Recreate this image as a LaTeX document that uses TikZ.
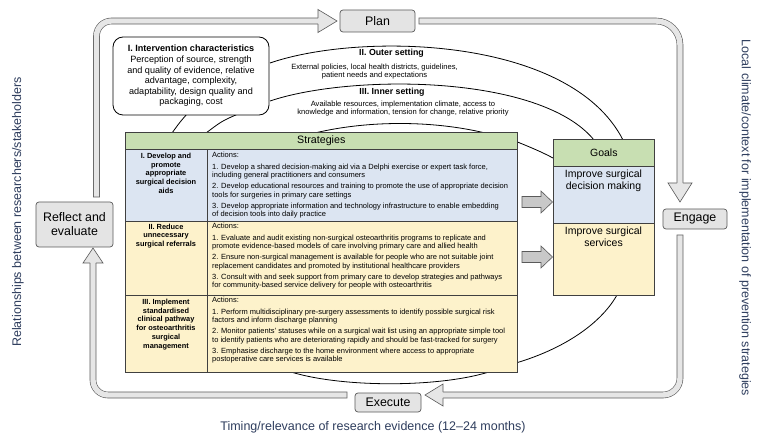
\documentclass[tikz,border=0pt]{standalone}
\usepackage{fontspec}
\setmainfont{Liberation Sans}
\usetikzlibrary{calc}
\definecolor{hdrgreen}{HTML}{C8DFB2}
\definecolor{rowblue}{HTML}{DCE5F2}
\definecolor{rowyellow}{HTML}{FDF2CB}
\definecolor{boxgray}{HTML}{E4E4E4}
\definecolor{linegray}{HTML}{5A5A5A}
\definecolor{labelblue}{HTML}{2F3E5E}
\definecolor{bandfill}{HTML}{E6E6E6}
\definecolor{blockgray}{HTML}{C8C8C8}
\newcommand{\actfont}{\fontsize{7.5}{8.3}\selectfont}
\tikzset{
  cyclebox/.style={draw=linegray, fill=boxgray, rounded corners=3pt, line width=0.7pt, inner sep=0pt, font=\fontsize{12.4}{14}\selectfont},
  band/.style={draw=linegray, line width=0.6pt, double=bandfill, double distance=5.4pt, line cap=rect},
  bandhead/.style={draw=linegray, fill=bandfill, line width=0.6pt, line join=miter},
  cell/.style={draw=black!75, line width=0.6pt, anchor=north west, inner sep=0pt},
  rowhead/.style={anchor=north, align=center, inner sep=0pt, font=\fontsize{7.4}{8.7}\selectfont\bfseries},
  acttext/.style={anchor=north west, align=left, inner sep=0pt, font=\actfont},
  goaltext/.style={anchor=north, align=center, inner sep=0pt, font=\fontsize{10.5}{12}\selectfont},
  arc/.style={draw=black, line width=0.8pt},
  blockarrow/.style={draw=linegray, fill=blockgray, line width=0.6pt},
  sidelabel/.style={text=labelblue, inner sep=0pt, font=\fontsize{12.5}{14}\selectfont},
  settitle/.style={inner sep=0pt, font=\fontsize{8.8}{10}\selectfont\bfseries},
  settext/.style={inner sep=0pt, align=center, font=\fontsize{7.6}{8.6}\selectfont},
}
\begin{document}
\begin{tikzpicture}[x=1pt,y=-1pt]
\useasboundingbox[fill=white] (0,0) rectangle (760,446);

% ---------- arcs (drawn first, partly covered) ----------
\draw[arc] (270,63) .. controls (360,32) and (570,36) .. (623,140);
\draw[arc] (270,101) .. controls (350,74) and (540,74) .. (594,140);
\draw[arc] (300,137) .. controls (360,119) and (440,119) .. (500,137);
\draw[arc] (505,137) .. controls (525,145) and (540,151) .. (553,158);
\draw[arc] (187,114) .. controls (180,122) .. (172,133);
\draw[arc] (238,114) .. controls (222,121) .. (206,133);
\draw[arc] (280,368) .. controls (330,389) and (450,389) .. (500,368);
\draw[arc] (505,366) .. controls (560,352) and (600,325) .. (617,295);

% ---------- strategies table ----------
\node[cell, fill=hdrgreen, minimum width=392, minimum height=17, font=\fontsize{10.7}{12}\selectfont] (strat) at (125,132) {Strategies};
\node[cell, fill=rowblue, minimum width=82, minimum height=72] (r1l) at (125,149) {};
\node[cell, fill=rowblue, minimum width=310, minimum height=72] (r1r) at (207,149) {};
\node[cell, fill=rowyellow, minimum width=82, minimum height=74] (r2l) at (125,221) {};
\node[cell, fill=rowyellow, minimum width=310, minimum height=74] (r2r) at (207,221) {};
\node[cell, fill=rowyellow, minimum width=82, minimum height=77] (r3l) at (125,295) {};
\node[cell, fill=rowyellow, minimum width=310, minimum height=77] (r3r) at (207,295) {};

\node[rowhead] (r1h) at (166,153) {I. Develop and\\promote\\appropriate\\surgical decision\\aids};
\node[rowhead] (r2h) at (166,223.5) {II. Reduce\\unnecessary\\surgical referrals};
\node[rowhead] (r3h) at (166,299) {III. Implement\\standardised\\clinical pathway\\for osteoarthritis\\surgical\\management};

\node[acttext] (r1a) at (212,152) {Actions:\\[3.7pt]
1. Develop a shared decision-making aid via a Delphi exercise or expert task force,\\
including general practitioners and consumers\\[2.7pt]
2. Develop educational resources and training to promote the use of appropriate decision\\
tools for surgeries in primary care settings\\[2.7pt]
3. Develop appropriate information and technology infrastructure to enable embedding\\
of decision tools into daily practice};
\node[acttext] (r2a) at (212,223) {Actions:\\[3.7pt]
1. Evaluate and audit existing non-surgical osteoarthritis programs to replicate and\\
promote evidence-based models of care involving primary care and allied health\\[2.7pt]
2. Ensure non-surgical management is available for people who are not suitable joint\\
replacement candidates and promoted by institutional healthcare providers\\[2.7pt]
3. Consult with and seek support from primary care to develop strategies and pathways\\
for community-based service delivery for people with osteoarthritis};
\node[acttext] (r3a) at (212,297) {Actions:\\[3.7pt]
1. Perform multidisciplinary pre-surgery assessments to identify possible surgical risk\\
factors and inform discharge planning\\[2.7pt]
2. Monitor patients’ statuses while on a surgical wait list using an appropriate simple tool\\
to identify patients who are deteriorating rapidly and should be fast-tracked for surgery\\[2.7pt]
3. Emphasise discharge to the home environment where access to appropriate\\
postoperative care services is available};

% ---------- goals ----------
\node[cell, fill=hdrgreen, minimum width=101, minimum height=27, font=\fontsize{10.5}{12}\selectfont] (goalsh) at (553,139) {Goals};
\node[cell, fill=rowblue, minimum width=101, minimum height=57] (goal1) at (553,166) {};
\node[cell, fill=rowyellow, minimum width=101, minimum height=72] (goal2) at (553,223) {};
\node[goaltext] (goal1t) at (603.5,170) {Improve surgical\\decision making};
\node[goaltext] (goal2t) at (603.5,227) {Improve surgical\\services};

% ---------- block arrows ----------
\draw[blockarrow] (522,196.5) -- (541,196.5) -- (541,191) -- (552.5,202) -- (541,213) -- (541,207.5) -- (522,207.5) -- cycle;
\draw[blockarrow] (522,251.5) -- (541,251.5) -- (541,246) -- (552.5,257) -- (541,268) -- (541,262.5) -- (522,262.5) -- cycle;

% ---------- intervention characteristics ----------
\node[draw=black, fill=white, rounded corners=10pt, line width=0.8pt, minimum width=156, minimum height=78, inner sep=0pt, align=center, font=\fontsize{9.1}{10.6}\selectfont] (inter) at (191,76)
 {\textbf{I. Intervention characteristics}\\Perception of source, strength\\and quality of evidence, relative\\advantage, complexity,\\adaptability, design quality and\\packaging, cost};

% ---------- settings labels ----------
\node[settitle] (outerT) at (391.5,53) {II. Outer setting};
\node[settext] (outerD) at (374.5,71.5) {External policies, local health districts, guidelines,\\patient needs and expectations};
\node[settitle] (innerT) at (392,92) {III. Inner setting};
\node[settext] (innerD) at (403,108.5) {Available resources, implementation climate, access to\\knowledge and information, tension for change, relative priority};

% ---------- cycle boxes ----------
\node[cyclebox, minimum width=75, minimum height=22] (plan) at (377.5,21) {Plan};
\node[cyclebox, minimum width=64, minimum height=20] (engage) at (695,219) {Engage};
\node[cyclebox, minimum width=66, minimum height=19] (execute) at (388,402.5) {Execute};
\node[cyclebox, minimum width=77, minimum height=45, align=center] (reflect) at (74.5,224.5) {Reflect and\\evaluate};

% ---------- cycle bands ----------
\coordinate (b1s) at (96.5,194);
\coordinate (b1e) at (318,21);
\draw[band, rounded corners=15pt] (b1s) -- (96.5,21) -- (b1e);
\filldraw[bandhead] (318,18.1) -- (318,9.5) -- (337,21) -- (318,32.5) -- (318,23.9);

\coordinate (b2s) at (422,21);
\coordinate (b2e) at (680,183);
\draw[band, rounded corners=24pt] (b2s) -- (680,21) -- (b2e);
\filldraw[bandhead] (677.1,183) -- (668,183) -- (680,202) -- (692,183) -- (682.9,183);

\coordinate (b3s) at (680,238);
\coordinate (b3e) at (443,395);
\draw[band, rounded corners=17pt] (b3s) -- (680,395) -- (b3e);
\filldraw[bandhead] (443,397.9) -- (443,406) -- (425,395) -- (443,384) -- (443,392.1);

\coordinate (b4s) at (344,395);
\coordinate (b4e) at (93,263);
\draw[band, rounded corners=15pt] (b4s) -- (93,395) -- (b4e);
\filldraw[bandhead] (95.9,263) -- (103,263) -- (93,248) -- (83,263) -- (90.1,263);

% ---------- side labels ----------
\node[sidelabel, rotate=90] (rel) at (18,212) {Relationships between researchers/stakeholders};
\node[sidelabel, rotate=-90] (local) at (745,218) {Local climate/context for implementation of prevention strategies};
\node[sidelabel] (timing) at (373,427) {Timing/relevance of research evidence (12–24 months)};
\end{tikzpicture}
\end{document}
